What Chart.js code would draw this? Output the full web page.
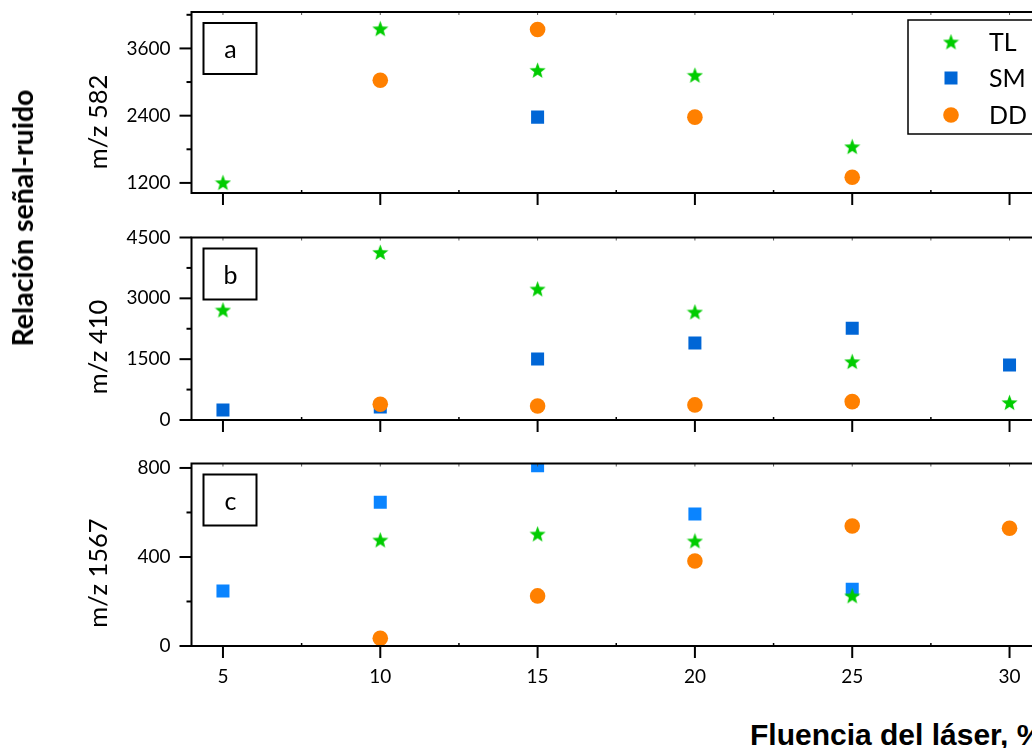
<!DOCTYPE html>
<html>
<head>
<meta charset="utf-8">
<script src="https://cdn.jsdelivr.net/npm/chart.js@4/dist/chart.umd.min.js"></script>
<style>
  html, body { margin: 0; padding: 0; background: #fff; overflow: hidden; }
  #wrap { position: relative; width: 1032px; height: 748px; overflow: hidden; }
  canvas { position: absolute; left: 0; }
  .lbl { position: absolute; white-space: nowrap; color: #000; transform: translate(-50%, -50%) rotate(-90deg); }
  .mz { font: 25.5px Lato, sans-serif; }
  .ytitle { font: bold 28.5px Lato, sans-serif; }
  .xtitle { position: absolute; left: 750px; top: 720px; font: bold 30px "Liberation Sans", Arial, sans-serif; line-height: 30px; white-space: nowrap; }
</style>
</head>
<body>
<div id="wrap">
  <canvas id="pa" width="1060" height="215" style="top:0px"></canvas>
  <canvas id="pb" width="1060" height="225" style="top:215px"></canvas>
  <canvas id="pc" width="1060" height="250" style="top:440px"></canvas>
  <div class="lbl ytitle" style="left:22px; top:218px">Relación señal-ruido</div>
  <div class="lbl mz" style="left:97px; top:122px">m/z 582</div>
  <div class="lbl mz" style="left:97px; top:347px">m/z 410</div>
  <div class="lbl mz" style="left:97px; top:573px">m/z 1567</div>
  <div class="xtitle">Fluencia del láser, %</div>
</div>
<script>
// fluencia del láser (%)
const fluencia = [5, 10, 15, 20, 25, 30];
const xTicks = [5, 7.5, 10, 12.5, 15, 17.5, 20, 22.5, 25, 27.5, 30];

// m/z 582
const tlA = [1205, 3951, 3209, 3121, 1846, null];
const smA = [null, null, 2374, null, null, null];
const ddA = [null, 3032, 3939, 2374, 1301, null];
const yTicksA = [1200, 1800, 2400, 3000, 3600, 4200];

// m/z 410
const tlB = [2712, 4133, 3229, 2662, 1438, 429];
const smB = [249, 320, 1505, 1899, 2261, 1357];
const ddB = [null, 389, 347, 372, 453, null];
const yTicksB = [0, 750, 1500, 2250, 3000, 3750, 4500];

// m/z 1567
const tlC = [null, 476, 503, 472, 225, null];
const smC = [247, 646, 810, 593, 255, null];
const ddC = [null, 35, 225, 382, 539, 529];
const yTicksC = [0, 200, 400, 600, 800];

const series = ['TL', 'SM', 'DD'];

function makeStar(color, size) {
  const c = document.createElement('canvas');
  c.width = c.height = size;
  const g = c.getContext('2d');
  const R = size / 2, r = R * 0.42, cx = size / 2, cy = size / 2 + 0.6;
  g.beginPath();
  for (let i = 0; i < 10; i++) {
    const a = -Math.PI / 2 + i * Math.PI / 5;
    const rad = i % 2 ? r : R;
    g.lineTo(cx + rad * Math.cos(a), cy + rad * Math.sin(a));
  }
  g.closePath();
  g.fillStyle = color;
  g.fill();
  return c;
}
const star = makeStar('#00cc00', 17);

function pts(vals) {
  return fluencia.map((x, i) => ({ x: x, y: vals[i] })).filter(p => p.y !== null);
}

function sets(tl, sm, dd, smColor) {
  return [
    { label: series[0], data: pts(tl), pointStyle: star, pointRadius: 8,
      backgroundColor: '#00cc00', order: 1 },
    { label: series[1], data: pts(sm), pointStyle: 'rect', pointRadius: 9.2,
      backgroundColor: smColor, borderColor: smColor, borderWidth: 0, order: 2 },
    { label: series[2], data: pts(dd), pointStyle: 'circle', pointRadius: 7.8,
      backgroundColor: '#ff8000', borderColor: '#ff8000', borderWidth: 0, order: 0 }
  ];
}

function line(ctx, x1, y1, x2, y2, w) {
  ctx.lineWidth = w;
  ctx.beginPath();
  ctx.moveTo(x1, y1);
  ctx.lineTo(x2, y2);
  ctx.stroke();
}

const framePlugin = {
  id: 'frame',
  afterDatasetsDraw(chart, args, o) {
    const { ctx, chartArea: a, scales: { x, y } } = chart;
    ctx.save();
    ctx.strokeStyle = '#000';
    ctx.lineCap = 'butt';
    y.ticks.forEach(t => {
      const py = y.getPixelForValue(t.value);
      const major = t.value % o.yStep === 0;
      line(ctx, a.left - (major ? 12 : 5), py, a.left, py, 2);
    });
    x.ticks.forEach(t => {
      const px = x.getPixelForValue(t.value);
      if (t.value % 5 === 0) line(ctx, px, a.bottom, px, a.bottom + 12, 2);
      else line(ctx, px, a.bottom - 3, px, a.bottom, 1.5);
      ctx.strokeStyle = '#555';
      line(ctx, px, a.top, px, a.top + 3, 1);
      ctx.strokeStyle = '#000';
    });
    ctx.lineWidth = 2;
    ctx.strokeRect(a.left, a.top, a.right - a.left, a.bottom - a.top);

    // recuadro con la letra del panel
    const bx = a.left + 12, by = a.top + 11;
    ctx.lineWidth = 2;
    ctx.strokeRect(bx, by, 53, 51);
    ctx.fillStyle = '#000';
    ctx.font = '25px Lato, sans-serif';
    ctx.textAlign = 'center';
    ctx.textBaseline = 'middle';
    ctx.fillText(o.letter, bx + 27, by + 27);

    if (o.legend) {
      ctx.fillStyle = '#fff';
      ctx.fillRect(908, 20, 200, 114);
      ctx.lineWidth = 1.5;
      ctx.strokeRect(908, 20, 200, 114);
      const rows = [42, 78, 115];
      chart.data.datasets.forEach((d, i) => {
        ctx.fillStyle = d.backgroundColor;
        Chart.helpers.drawPoint(ctx, {
          pointStyle: d.pointStyle, radius: d.pointRadius, rotation: 0, borderWidth: 0
        }, 951, rows[i]);
        ctx.fillStyle = '#000';
        ctx.font = '25px Lato, sans-serif';
        ctx.textAlign = 'left';
        ctx.fillText(d.label, 989, rows[i] + 1);
      });
    }
    ctx.restore();
  }
};

function panel(id, datasets, yMin, yMax, yTicks, yStep, letter, opts) {
  return new Chart(document.getElementById(id), {
    type: 'scatter',
    data: { datasets: datasets },
    plugins: [framePlugin],
    options: {
      responsive: false,
      animation: false,
      layout: { padding: { top: opts.top, right: 19, left: 0, bottom: 0 } },
      plugins: {
        legend: { display: false },
        tooltip: { enabled: false },
        frame: { yStep: yStep, letter: letter, legend: !!opts.legend }
      },
      scales: {
        x: {
          type: 'linear', min: 4, max: 31,
          afterBuildTicks: s => { s.ticks = xTicks.map(v => ({ value: v })); },
          afterFit: s => { s.height = opts.xh; },
          grid: { display: true, drawOnChartArea: false, drawTicks: true, tickLength: 19, color: 'rgba(0,0,0,0)' },
          border: { display: false },
          ticks: {
            display: !!opts.xLabels, padding: 0, color: '#000',
            font: { family: 'Lato', size: 19 },
            maxRotation: 0, autoSkip: false,
            callback: v => (v % 5 === 0 ? v : '')
          }
        },
        y: {
          type: 'linear', min: yMin, max: yMax,
          afterBuildTicks: s => { s.ticks = yTicks.map(v => ({ value: v })); },
          afterFit: s => { s.width = 191.5; },
          grid: { display: true, drawOnChartArea: false, drawTicks: true, tickLength: 21, color: 'rgba(0,0,0,0)' },
          border: { display: false },
          ticks: {
            padding: 0, color: '#000',
            font: { family: 'Lato', size: 19 },
            autoSkip: false,
            callback: v => (v % yStep === 0 ? v : '')
          }
        }
      }
    }
  });
}

panel('pa', sets(tlA, smA, ddA, '#0066d6'), 1020, 4250, yTicksA, 1200, 'a', { top: 12, xh: 22, legend: true });
panel('pb', sets(tlB, smB, ddB, '#0066d6'), 0, 4500, yTicksB, 1500, 'b', { top: 22.5, xh: 20 });
panel('pc', sets(tlC, smC, ddC, '#0a84ff'), 0, 820, yTicksC, 400, 'c', { top: 23.5, xh: 44, xLabels: true });
</script>
</body>
</html>
